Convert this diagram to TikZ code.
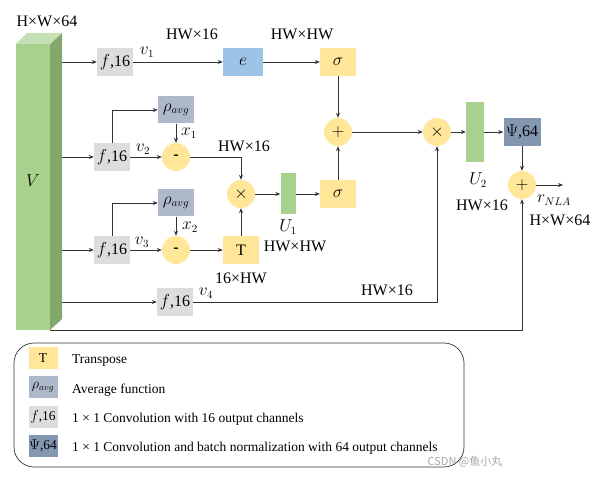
\documentclass[tikz,border=0pt]{standalone}
\usepackage{fontspec}
\setmainfont{Liberation Serif}
\newfontfamily\cjk{Noto Sans CJK SC}
\usetikzlibrary{arrows.meta, calc, positioning}

\definecolor{convgray}{HTML}{DDDDDD}
\definecolor{expblue}{HTML}{9DC3E6}
\definecolor{sigyellow}{HTML}{FFE699}
\definecolor{avgblue}{HTML}{ADB9CA}
\definecolor{psiblue}{HTML}{8497B0}
\definecolor{barfront}{HTML}{A9D18E}
\definecolor{barside}{HTML}{84A86C}
\definecolor{bartop}{HTML}{C5E0B4}
\definecolor{linegray}{HTML}{333333}

\tikzset{
    arr/.style={draw=linegray, line width=0.7pt, -{Stealth[length=5pt, width=4pt]}},
    plain/.style={draw=linegray, line width=0.7pt},
    conv/.style={fill=convgray, minimum width=36pt, minimum height=28pt, inner sep=0pt},
    yellowbox/.style={fill=sigyellow, minimum width=36pt, minimum height=28pt, inner sep=0pt},
    avgbox/.style={fill=avgblue, minimum width=36pt, minimum height=27pt, inner sep=0pt},
    psibox/.style={fill=psiblue, minimum width=37pt, minimum height=28pt, inner sep=0pt},
    op/.style={circle, fill=sigyellow, minimum size=28pt, inner sep=0pt},
    bar/.style={fill=barfront, inner sep=0pt},
    lbl/.style={inner sep=0pt},
    legbox/.style={minimum width=29pt, minimum height=22pt, inner sep=0pt}
}

\begin{document}
\begin{tikzpicture}[x=1pt, y=-1pt, font=\fontsize{16}{18}\selectfont]
    \useasboundingbox (0, 0) rectangle (596, 478);

    \fill[barside] (50, 44) -- (62, 33) -- (62, 319) -- (50, 330) -- cycle;
    \fill[bartop] (16, 44) -- (27, 33) -- (62, 33) -- (50, 44) -- cycle;
    \node[bar, minimum width=34pt, minimum height=286pt] (vol) at (33, 187) {};
    \node[lbl] (vname) at (33, 181) {$V$};
    \node[lbl] (vsize) at (47, 21) {H×W×64};
    \coordinate (vs) at (62, 187);

    \node[conv] (f1) at (115, 62) {$f$,16};
    \node[conv, fill=expblue, minimum width=40pt] (e) at (243, 62) {$e$};
    \node[yellowbox] (s1) at (338, 62) {$\sigma$};
    \node[op] (plus) at (338, 132) {$+$};
    \node[op] (times2) at (437, 132) {$\times$};
    \node[bar, minimum width=18pt, minimum height=60pt] (U2) at (475, 132) {};
    \node[psibox] (psi) at (522, 132) {$\Psi$,64};
    \node[op] (plus2) at (522, 185) {$+$};
    \coordinate (out) at (563, 185);

    \node[conv] (f2) at (112, 157) {$f$,16};
    \node[op] (m1) at (176, 157) {\textbf{-}};
    \node[avgbox] (r1) at (176, 110) {$\rho_{avg}$};

    \node[op] (times1) at (241, 194) {$\times$};
    \node[bar, minimum width=15pt, minimum height=41pt] (U1) at (288, 194) {};
    \node[yellowbox] (s2) at (338, 194) {$\sigma$};

    \node[conv] (f3) at (112, 250) {$f$,16};
    \node[op] (m2) at (176, 250) {\textbf{-}};
    \node[avgbox] (r2) at (176, 203) {$\rho_{avg}$};
    \node[yellowbox] (T) at (241, 250) {T};

    \node[conv] (f4) at (175, 302) {$f$,16};

    \draw[arr] (f1 -| vs) -- (f1.west);
    \draw[arr] (f1) -- (e);
    \draw[arr] (e) -- (s1);
    \draw[arr] (s1) -- (plus);
    \draw[arr] (plus) -- (times2);
    \draw[arr] (times2) -- (U2);
    \draw[arr] (U2) -- (psi);
    \draw[arr] (psi) -- (plus2);
    \draw[arr] (plus2) -- (out);

    \draw[arr] (f2 -| vs) -- (f2.west);
    \draw[arr] (f2) -- (m1);
    \draw[arr] (f2.north) |- (r1.west);
    \draw[arr] (r1) -- (m1);
    \draw[arr] (m1.east) -| (times1.north);
    \draw[arr] (times1) -- (U1);
    \draw[arr] (U1) -- (s2);
    \draw[arr] (s2) -- (plus);

    \draw[arr] (f3 -| vs) -- (f3.west);
    \draw[arr] (f3) -- (m2);
    \draw[arr] (f3.north) |- (r2.west);
    \draw[arr] (r2) -- (m2);
    \draw[arr] (m2) -- (T);
    \draw[arr] (T) -- (times1);

    \draw[arr] (f4 -| vs) -- (f4.west);
    \draw[arr] (f4.east) -| (times2.south);
    \draw[arr] (vol.south east) -| (plus2.south);

    \node[lbl] (lv1) at (147, 52) {$v_1$};
    \node[lbl] (lv2) at (143, 149) {$v_2$};
    \node[lbl] (lv3) at (142, 242) {$v_3$};
    \node[lbl] (lv4) at (206, 293) {$v_4$};
    \node[lbl] (lx1) at (189, 133) {$x_1$};
    \node[lbl] (lx2) at (190, 227) {$x_2$};
    \node[lbl] (d1) at (192, 34) {HW×16};
    \node[lbl] (d2) at (302, 34) {HW×HW};
    \node[lbl] (d3) at (244, 146) {HW×16};
    \node[lbl] (lu1) at (288, 227) {$U_1$};
    \node[lbl] (d4) at (295, 246) {HW×HW};
    \node[lbl] (d5) at (241, 278) {16×HW};
    \node[lbl] (d6) at (387, 290) {HW×16};
    \node[lbl] (lu2) at (478, 180) {$U_2$};
    \node[lbl] (d7) at (482, 205) {HW×16};
    \node[lbl] (lr) at (554, 200) {$r_{NLA}$};
    \node[lbl] (d8) at (560, 220) {H×W×64};

    \draw[plain, rounded corners=20pt] (14, 343) rectangle (464, 467);
    \begin{scope}[font=\fontsize{13.5}{16}\selectfont]
        \node[legbox, fill=sigyellow] (kT) at (43, 358) {T};
        \node[legbox, fill=avgblue] (kavg) at (43, 387) {$\rho_{avg}$};
        \node[legbox, fill=convgray] (kconv) at (43, 417) {$f$,16};
        \node[legbox, fill=psiblue] (kpsi) at (43, 446) {$\Psi$,64};
        \node[lbl, anchor=west] (tT) at (72, 361) {Transpose};
        \node[lbl, anchor=west] (tavg) at (72, 390) {Average function};
        \node[lbl, anchor=west] (tconv) at (72, 419) {1 × 1 Convolution with 16 output channels};
        \node[lbl, anchor=west] (tpsi) at (72, 448) {1 × 1 Convolution and batch normalization with 64 output channels};
    \end{scope}

    \node[lbl, text=gray!70, font=\cjk\fontsize{11}{13}\selectfont] (mark) at (465, 462) {CSDN @鱼小丸};
\end{tikzpicture}
\end{document}
